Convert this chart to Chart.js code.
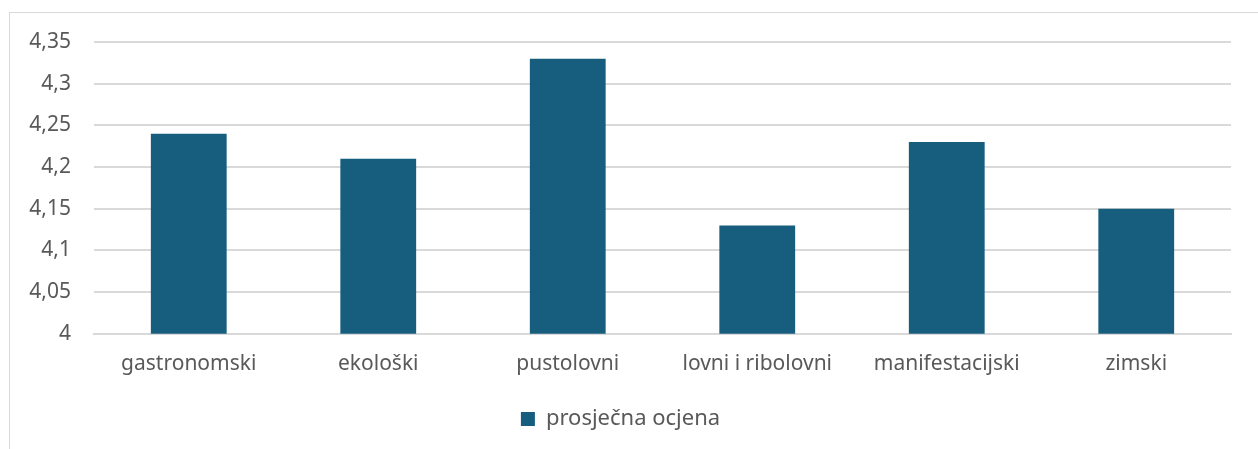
<!DOCTYPE html>
<html>
<head>
<meta charset="utf-8">
<script src="https://cdn.jsdelivr.net/npm/chart.js@4"></script>
<style>
  body { margin: 0; background: #ffffff; overflow: hidden; }
  #container {
    position: absolute; left: 9px; top: 12px;
    width: 1260px; height: 445px;
    border: 1px solid #d9d9d9; background: #fff;
  }
  #chart-box { position: absolute; left: 0; top: 0; width: 1249px; height: 436px; }
</style>
</head>
<body>
<div id="container">
  <div id="chart-box"><canvas id="chart"></canvas></div>
</div>
<script>
'use strict';

// ***** DATA *****
const categories = ['gastronomski', 'ekološki', 'pustolovni', 'lovni i ribolovni', 'manifestacijski', 'zimski'];
const averageScores = [4.24, 4.21, 4.33, 4.13, 4.23, 4.15];
const seriesLabel = 'prosječna ocjena';
const yMin = 4;
const yMax = 4.35;
const yStep = 0.05;

const barColor = '#175E7E';
const textColor = '#595959';
const gridColor = '#d9d9d9';

function formatTick(value) {
  return String(Math.round(value * 100) / 100).replace('.', ',');
}

function renderChart() {
  const ctx = document.getElementById('chart').getContext('2d');
  let myChart = new Chart(ctx, { //eslint-disable-line
    type: 'bar',
    data: {
      labels: categories,
      datasets: [{
        label: seriesLabel,
        data: averageScores,
        backgroundColor: barColor,
        borderWidth: 0,
        categoryPercentage: 0.8,
        barPercentage: 0.5
      }]
    },
    options: {
      responsive: true,
      maintainAspectRatio: false,
      animation: false,
      layout: { padding: { top: 29, right: 28, bottom: 9, left: 0 } },
      plugins: {
        tooltip: { enabled: false },
        legend: {
          position: 'bottom',
          labels: {
            color: textColor,
            font: { family: 'Noto Sans', size: 22 },
            boxWidth: 14,
            boxHeight: 14,
            padding: 20
          }
        }
      },
      scales: {
        x: {
          afterFit: function (scale) { scale.height -= 7; },
          grid: { display: false, drawTicks: false },
          border: { color: gridColor, width: 2 },
          ticks: {
            color: textColor,
            font: { family: 'Noto Sans', size: 21 },
            padding: 18,
            maxRotation: 0
          }
        },
        y: {
          min: yMin,
          max: yMax,
          afterFit: function (scale) {
            scale.width = 84;
            scale.paddingTop = 0;
            scale.paddingBottom = 0;
          },
          grid: { color: gridColor, lineWidth: 2, drawTicks: false },
          border: { display: false },
          ticks: {
            stepSize: yStep,
            color: textColor,
            font: { family: 'Noto Sans', size: 21 },
            padding: 23,
            callback: formatTick
          }
        }
      }
    }
  });
}

renderChart();
</script>
</body>
</html>
